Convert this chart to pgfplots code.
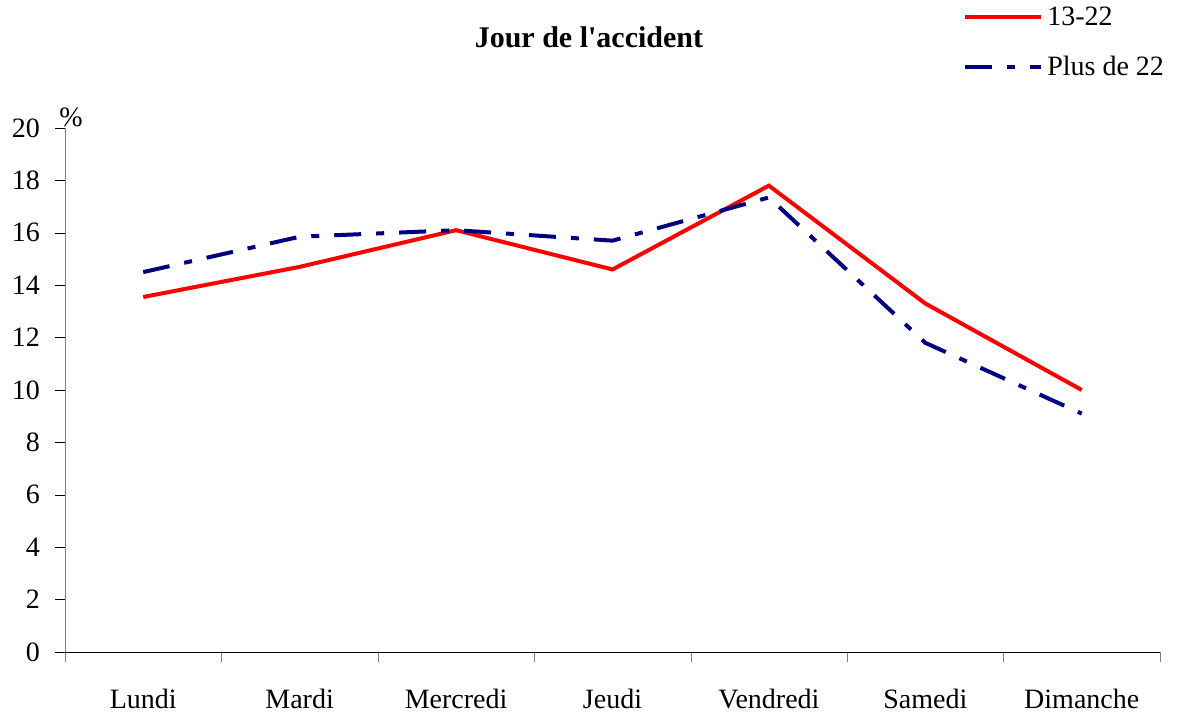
\documentclass[border=0pt]{standalone}
\usepackage{fontspec}
\setmainfont{Liberation Serif}
\usepackage{pgfplots}
\pgfplotsset{compat=1.18}
\definecolor{navyb}{RGB}{0,0,128}
\definecolor{redl}{RGB}{255,0,0}
\begin{document}
\begin{tikzpicture}
\path[use as bounding box] (0,0) rectangle (590pt,357pt);
\begin{axis}[
  at={(32.5pt,31pt)}, anchor=south west,
  scale only axis, width=547.5pt, height=262pt,
  font=\fontsize{14}{17}\selectfont,
  /pgf/number format/assume math mode=true,
  xmin=-0.5, xmax=6.5, ymin=0, ymax=20,
  ytick={0,2,...,20},
  xtick={0,...,6},
  xticklabels={Lundi,Mardi,Mercredi,Jeudi,Vendredi,Samedi,Dimanche},
  minor xtick={-0.5,0.5,...,6.5},
  axis x line=bottom, axis y line=left,
  x axis line style={black,-},
  y axis line style={gray,-},
  tick align=outside,
  major tick length=5pt,
  minor tick length=5pt,
  x tick style={draw=none},
  minor x tick style={draw=gray},
  y tick style={black},
  xticklabel style={yshift=-10pt},
  yticklabel style={xshift=-4pt},
  title={\textbf{Jour de l\textquotesingle accident}},
  title style={at={(axis description cs:0.4785,1.151)}, anchor=center, font=\fontsize{15}{18}\selectfont},
  ylabel={\%},
  ylabel style={rotate=-90, at={(axis description cs:0.0055,1.021)}, anchor=center},
  legend style={at={(axis description cs:0.820,1.240)}, anchor=north west, draw=none, fill=none, row sep=10pt, font=\fontsize{14}{17}\selectfont, inner sep=0pt,
    /tikz/every even column/.append style={column sep=4pt}},
  legend cell align=left,
  legend image code/.code={\draw[#1] (0pt,0pt) -- (38pt,0pt);},
  clip=false,
]
\addplot[redl, line width=2pt] coordinates {
(0,13.55) (1,14.7) (2,16.1) (3,14.6) (4,17.8) (5,13.3) (6,10.0)};
\addlegendentry{13-22}
\addplot[navyb, line width=2pt, dash pattern=on 13.5pt off 7.5pt on 4pt off 7.5pt] coordinates {
(0,14.5) (1,15.85) (2,16.1) (3,15.7) (4,17.35) (5,11.8) (6,9.1)};
\addlegendentry{Plus de 22}
\end{axis}
\end{tikzpicture}
\end{document}
